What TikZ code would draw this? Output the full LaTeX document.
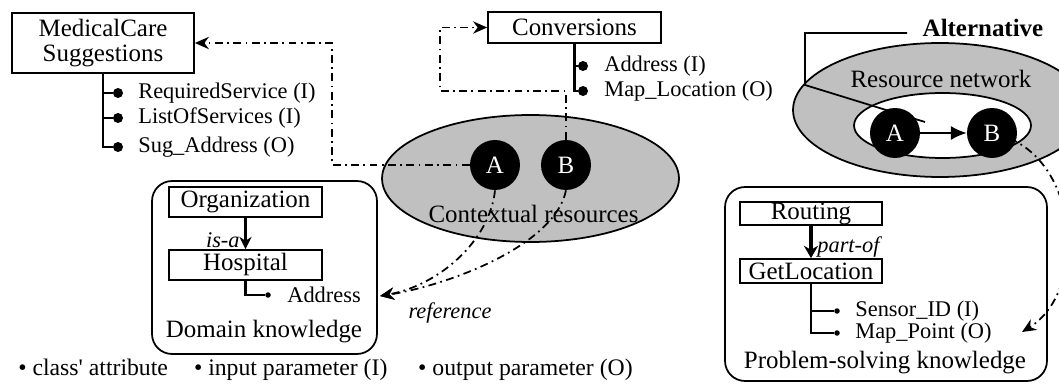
\documentclass[tikz,border=0pt]{standalone}
\usepackage{fontspec}
\setmainfont{Liberation Serif}[Ligatures=TeXOff]
\usetikzlibrary{arrows.meta,shapes.geometric}

\definecolor{shade}{RGB}{192,192,192}
\newcommand\bigtxt{\fontsize{14.2}{14.7}\selectfont}
\newcommand\smalltxt{\fontsize{12.75}{14}\selectfont}
\newcommand\legtxt{\fontsize{13.5}{15}\selectfont}

\begin{document}
\begin{tikzpicture}[x=0.02cm,y=-0.02cm,
    cls/.style={draw,line width=1pt,inner sep=0pt,font=\bigtxt,align=center},
    grp/.style={draw,line width=1pt,rounded corners=0.4cm,inner sep=0pt},
    cloud/.style={draw,ellipse,line width=1pt,fill=shade,inner sep=0pt},
    res/.style={circle,fill=black,text=white,minimum size=1cm,inner sep=0pt,font=\bigtxt},
    pt/.style={circle,fill=black,minimum size=0.2cm,inner sep=0pt},
    spt/.style={circle,fill=black,minimum size=0.11cm,inner sep=0pt},
    attr/.style={anchor=west,inner sep=0pt,font=\smalltxt},
    lbl/.style={inner sep=0pt,font=\bigtxt},
    tree/.style={line width=1.3pt},
    dd/.style={line width=1pt,dash pattern=on 4.5pt off 2.5pt on 1pt off 2.5pt,
        -{Stealth[length=8pt,width=7pt]}}]

    \useasboundingbox (0,0) rectangle (1059,385);
    \clip (0,0) rectangle (1059,385);

    % domain knowledge
    \node[grp,minimum width=4.5cm,minimum height=3.46cm] (dom) at (264.5,267.5) {};
    \node[cls,minimum width=3.06cm,minimum height=0.6cm] (org) at (245.5,202) {Organization};
    \node[cls,minimum width=3.06cm,minimum height=0.6cm] (hosp) at (245.5,265) {Hospital};
    \draw[line width=1.2pt,-{Stealth[length=7pt,width=7pt]}] (org) -- (hosp);
    \node[anchor=east,inner sep=0pt,font=\smalltxt\itshape] (isa) at (240,240) {is-a};
    \node[spt] (h1) at (268,295) {};
    \node[attr] (h1t) at (287,295) {Address};
    \draw[tree] (hosp.south) |- (h1);
    \node[lbl] (domlbl) at (264,332) {Domain knowledge};

    % problem-solving knowledge
    \node[grp,minimum width=6.44cm,minimum height=3.88cm] (prob) at (886,284) {};
    \node[cls,minimum width=2.84cm,minimum height=0.46cm] (rout) at (811,213.5) {Routing};
    \node[cls,minimum width=2.84cm,minimum height=0.48cm] (getl) at (811,271) {GetLocation};
    \draw[line width=2.4pt,-{Stealth[length=7pt,width=8pt]}] (rout) -- (getl);
    \node[anchor=west,inner sep=0pt,font=\smalltxt\itshape] (partof) at (817,247) {part-of};
    \node[spt] (g1) at (837,311) {};
    \node[spt] (g2) at (837,333) {};
    \node[attr] (g1t) at (855,311) {Sensor\_ID (I)};
    \node[attr] (g2t) at (855,333) {Map\_Point (O)};
    \draw[tree] (getl.south) |- (g1);
    \draw[tree] (getl.south) |- (g2);
    \node[lbl] (problbl) at (885,363) {Problem-solving knowledge};

    % service classes
    \node[cls,minimum width=3.64cm,minimum height=1.2cm] (med) at (103,43) {MedicalCare\\Suggestions};
    \node[pt] (m1) at (118,93) {};
    \node[pt] (m2) at (118,118) {};
    \node[pt] (m3) at (118,147) {};
    \node[attr] (m1t) at (138,93) {RequiredService (I)};
    \node[attr] (m2t) at (138,118) {ListOfServices (I)};
    \node[attr] (m3t) at (138,147) {Sug\_Address (O)};
    \draw[tree] (med.south) |- (m1);
    \draw[tree] (med.south) |- (m2);
    \draw[tree] (med.south) |- (m3);

    \node[cls,minimum width=3.46cm,minimum height=0.62cm] (conv) at (574.5,27.5) {Conversions};
    \node[pt] (c1) at (583,66) {};
    \node[pt] (c2) at (583,91) {};
    \node[attr] (c1t) at (604,66) {Address (I)};
    \node[attr] (c2t) at (604,91) {Map\_Location (O)};
    \draw[tree] (conv.south) |- (c1);
    \draw[tree] (conv.south) |- (c2);

    % contextual resources
    \node[cloud,minimum width=5.94cm,minimum height=2.54cm] (ctx) at (530.5,178.5) {};
    \node[lbl] (ctxlbl) at (533.5,214) {Contextual resources};
    \node[res] (ra) at (495,165) {A};
    \node[res] (rb) at (566,165) {B};
    \coordinate (mbend) at (332,43);
    \coordinate (cbend) at (440,91);
    \coordinate (refpt) at (380,296);
    \draw[dd] (ra.west) -| (mbend) -- (med.east);
    \draw[dd] (rb.north) |- (cbend) |- (conv.west);
    \draw[dd] (ra.south) .. controls (490,240) and (440,285) .. (refpt);
    \draw[dd] (rb.south) .. controls (555,245) and (450,285) .. (refpt);
    \node[inner sep=0pt,font=\smalltxt\itshape] (reflbl) at (450,313) {reference};

    % resource network
    \node[cloud,minimum width=5.88cm,minimum height=2.68cm] (net) at (940,110) {};
    \node[draw,ellipse,fill=white,line width=1pt,inner sep=0pt,
        minimum width=3.54cm,minimum height=1.3cm] (sub) at (942.5,125.5) {};
    \node[lbl] (netlbl) at (941,79) {Resource network};
    \node[lbl,font=\bigtxt\bfseries] (alt) at (983,28) {Alternative};
    \coordinate (ak0) at (907,33);
    \coordinate (ak1) at (805,33);
    \coordinate (ak2) at (805,85);
    \coordinate (aend) at (925,122);
    \coordinate (bcen) at (992,133);
    \coordinate (mapend) at (1022,332);
    \draw[line width=1pt] (ak0) -- (ak1) -- (ak2) -- (aend);
    \draw[dd] (bcen) .. controls (1080,150) and (1090,290) .. (mapend);
    \node[res] (na) at (895,133) {A};
    \node[res] (nb) at (bcen) {B};
    \draw[line width=1pt,-{Latex[length=9pt,width=8pt]}] (na) -- (nb);

    % legend
    \node[anchor=west,inner sep=0pt,font=\legtxt] (legend) at (18,370)
        {\textbullet\ class' attribute\hspace{1.1em}\textbullet\ input parameter (I)\hspace{1.3em}\textbullet\ output parameter (O)};

\end{tikzpicture}
\end{document}
